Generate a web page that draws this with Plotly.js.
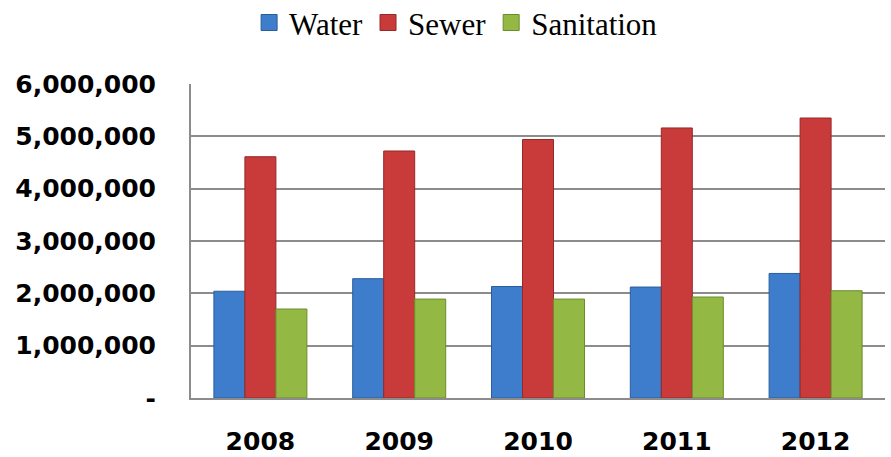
<!DOCTYPE html>
<html>
<head>
<meta charset="utf-8">
<script src="https://cdn.plot.ly/plotly-3.0.1.min.js"></script>
<style>html,body{margin:0;padding:0;background:#fff;}#chart{width:891px;height:457px;}</style>
</head>
<body>
<div id="chart"></div>
<script>
const years = ['2008', '2009', '2010', '2011', '2012'];
const water = [2040000, 2280000, 2130000, 2120000, 2380000];
const sewer = [4610000, 4720000, 4940000, 5160000, 5350000];
const sanitation = [1700000, 1890000, 1890000, 1930000, 2050000];
const yTickVals = [0, 1000000, 2000000, 3000000, 4000000, 5000000, 6000000];
const yTickText = ['-', '1,000,000', '2,000,000', '3,000,000', '4,000,000', '5,000,000', '6,000,000'];

const seriesNames = ['Water', 'Sewer', 'Sanitation'];
const seriesValues = [water, sewer, sanitation];
const fills = ['#3d7dcc', '#c93a3a', '#93b843'];
const edges = ['#2a5d9c', '#962828', '#6c8c2c'];

const traces = [];
seriesNames.forEach((n, i) => {
  traces.push({
    type: 'bar', name: n, x: years, y: seriesValues[i],
    marker: {color: fills[i], line: {color: edges[i], width: 1}},
    showlegend: false, legendgroup: n, hoverinfo: 'x+y+name'
  });
});
seriesNames.forEach((n, i) => {
  traces.push({
    type: 'scatter', mode: 'markers', name: n, x: [null], y: [null],
    marker: {symbol: 'square', size: 16, color: fills[i], line: {color: edges[i], width: 1}},
    legendgroup: n, showlegend: true
  });
});

const layout = {
  width: 891, height: 457,
  margin: {l: 191, r: 6, t: 84, b: 59},
  paper_bgcolor: '#ffffff', plot_bgcolor: '#ffffff',
  barmode: 'group', bargap: 0.33, bargroupgap: 0,
  showlegend: true,
  legend: {
    orientation: 'h', x: 0.382, xanchor: 'center',
    yref: 'container', y: 0.95, yanchor: 'middle',
    font: {family: "'Times New Roman', 'Liberation Serif', serif", size: 31, color: '#000'},
    itemsizing: 'trace', traceorder: 'normal', bgcolor: 'rgba(0,0,0,0)',
    itemwidth: 30, entrywidthmode: 'pixels'
  },
  xaxis: {
    type: 'category', showline: true, linecolor: '#8c8c8c', linewidth: 2,
    showgrid: false, ticks: '', ticklabelstandoff: 20,
    tickfont: {family: 'DejaVu Sans', size: 25, color: '#000', weight: 'bold'}
  },
  yaxis: {
    range: [0, 6000000], tickvals: yTickVals, ticktext: yTickText,
    showline: true, linecolor: '#8c8c8c', linewidth: 2,
    showgrid: true, gridcolor: '#8c8c8c', gridwidth: 2,
    zeroline: false, ticks: '', ticklabelstandoff: 28,
    tickfont: {family: 'DejaVu Sans', size: 25, color: '#000', weight: 'bold'}
  }
};

Plotly.newPlot('chart', traces, layout, {displayModeBar: false, staticPlot: true});
</script>
</body>
</html>
